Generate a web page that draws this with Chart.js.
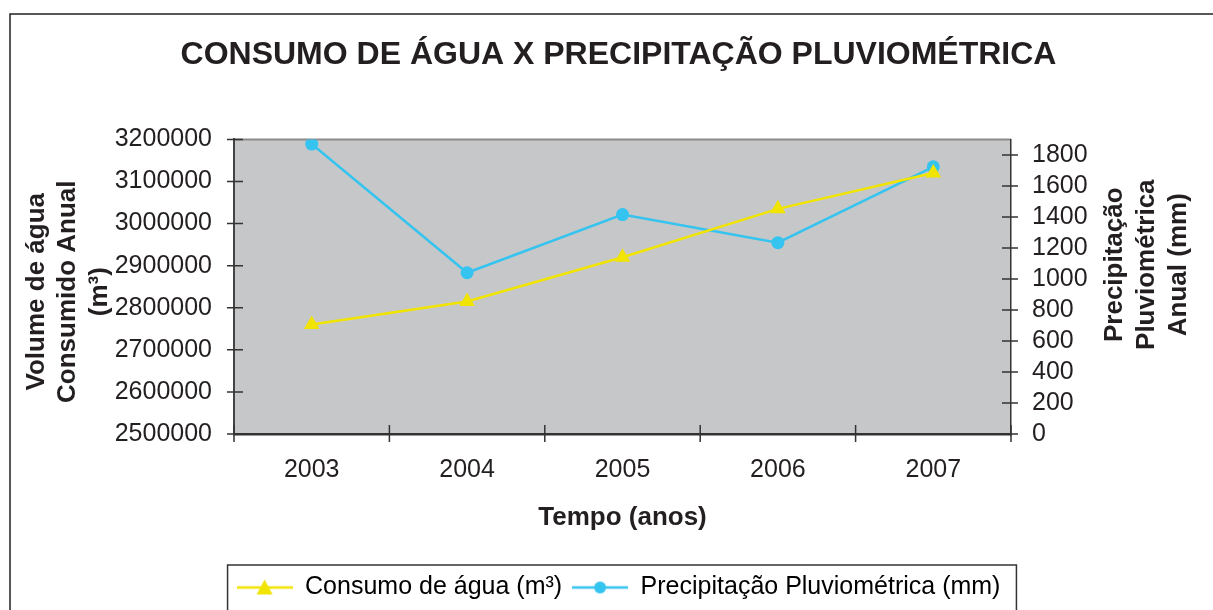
<!DOCTYPE html>
<html>
<head>
<meta charset="utf-8">
<title>Consumo de água x Precipitação</title>
<script src="https://cdn.jsdelivr.net/npm/chart.js@4.4.0/dist/chart.umd.min.js"></script>
<style>
    html, body { margin: 0; padding: 0; background: #ffffff; }
    #grafico { display: block; }
</style>
</head>
<body>
<div style="width:1213px;height:610px;">
    <canvas id="grafico" width="1213" height="610"></canvas>
</div>
<script>
var anos = ['2003', '2004', '2005', '2006', '2007']
var consumo = [2760000, 2815000, 2920000, 3035000, 3120000]
var precipitacao = [1870, 1040, 1415, 1234, 1723]

var ticksConsumo = { min: 2500000, max: 3200000, passo: 100000 }
var ticksPrecip = { min: 0, max: 1900, passo: 200 }

var tituloEsq = ['Volume de água', 'Consumido Anual', '(m³)']
var tituloDir = ['Precipitação', 'Pluviométrica', 'Anual (mm)']

var amarelo = '#f0e400'
var azul = '#35c4ef'
var fonte = '"Liberation Sans", Arial, sans-serif'

// marcador da legenda: linha com o ponto no meio
function criaMarcador(cor, tipo) {
    var c = document.createElement('canvas')
    c.width = 56
    c.height = 18
    var ctx = c.getContext('2d')
    ctx.strokeStyle = cor
    ctx.lineWidth = 2.5
    ctx.beginPath()
    ctx.moveTo(0, 9)
    ctx.lineTo(56, 9)
    ctx.stroke()
    ctx.fillStyle = cor
    ctx.beginPath()
    if (tipo == 'triangulo') {
        ctx.moveTo(28, 1)
        ctx.lineTo(36, 16)
        ctx.lineTo(20, 16)
        ctx.closePath()
    } else {
        ctx.arc(28, 9, 6, 0, Math.PI * 2)
    }
    ctx.fill()
    return c
}

var extras = {
    id: 'extras',
    beforeDraw: function (chart) {
        var ctx = chart.ctx
        var a = chart.chartArea
        ctx.save()
        // moldura externa
        ctx.strokeStyle = '#222'
        ctx.lineWidth = 1.5
        ctx.beginPath()
        ctx.moveTo(10, 620)
        ctx.lineTo(10, 14)
        ctx.lineTo(1220, 14)
        ctx.stroke()
        // fundo da area do grafico
        ctx.fillStyle = '#c6c7c9'
        ctx.fillRect(a.left, a.top, a.right - a.left, a.bottom - a.top)
        ctx.strokeStyle = '#8c8c8c'
        ctx.lineWidth = 2
        ctx.beginPath()
        ctx.moveTo(a.left, a.top)
        ctx.lineTo(a.right, a.top)
        ctx.stroke()
        ctx.restore()
    },
    beforeDatasetsDraw: function (chart) {
        var ctx = chart.ctx
        var a = chart.chartArea
        var x = chart.scales.x
        var y = chart.scales.y
        var y1 = chart.scales.y1
        ctx.save()
        ctx.strokeStyle = '#333'
        ctx.lineWidth = 1.5
        ctx.beginPath()
        y.ticks.forEach(function (t) {
            var py = y.getPixelForValue(t.value)
            ctx.moveTo(a.left - 7, py)
            ctx.lineTo(a.left + 9, py)
        })
        y1.ticks.forEach(function (t) {
            var py = y1.getPixelForValue(t.value)
            ctx.moveTo(a.right - 9, py)
            ctx.lineTo(a.right + 7, py)
        })
        for (var k = 0; k <= anos.length; k++) {
            var px = x.left + k * x.width / anos.length
            ctx.moveTo(px, a.bottom - 9)
            ctx.lineTo(px, a.bottom + 8)
        }
        ctx.stroke()
        ctx.restore()
    },
    afterDraw: function (chart) {
        var ctx = chart.ctx
        var a = chart.chartArea
        ctx.save()
        ctx.fillStyle = '#231f20'
        ctx.font = 'bold 26px ' + fonte
        ctx.textAlign = 'center'
        ctx.textBaseline = 'middle'
        var meio = (a.top + a.bottom) / 2
        // titulo do eixo esquerdo
        var xsEsq = [37, 68, 100]
        tituloEsq.forEach(function (linha, i) {
            ctx.save()
            ctx.translate(xsEsq[i], meio + 5)
            ctx.rotate(-Math.PI / 2)
            ctx.fillText(linha, 0, 0)
            ctx.restore()
        })
        // titulo do eixo direito
        var xsDir = [1115, 1147, 1179]
        tituloDir.forEach(function (linha, i) {
            ctx.save()
            ctx.translate(xsDir[i], meio - 22)
            ctx.rotate(-Math.PI / 2)
            ctx.fillText(linha, 0, 0)
            ctx.restore()
        })
        // borda da legenda
        var leg = chart.legend
        if (leg && leg.legendHitBoxes && leg.legendHitBoxes.length) {
            var caixas = leg.legendHitBoxes
            var esq = caixas[0].left - 9
            var ult = caixas[caixas.length - 1]
            var dir = ult.left + ult.width + 16
            ctx.strokeStyle = '#333'
            ctx.lineWidth = 1.5
            ctx.beginPath()
            ctx.moveTo(esq, 640)
            ctx.lineTo(esq, leg.top)
            ctx.lineTo(dir, leg.top)
            ctx.lineTo(dir, 640)
            ctx.stroke()
        }
        ctx.restore()
    }
}

var canvas = document.getElementById('grafico')

var grafico = new Chart(canvas, {
    type: 'line',
    data: {
        labels: anos,
        datasets: [{
            label: 'Consumo de água (m³)',
            data: consumo,
            yAxisID: 'y',
            borderColor: amarelo,
            backgroundColor: amarelo,
            borderWidth: 2.5,
            pointStyle: 'triangle',
            pointRadius: 9,
            pointBorderWidth: 0,
            tension: 0,
            fill: false
        }, {
            label: 'Precipitação Pluviométrica (mm)',
            data: precipitacao,
            yAxisID: 'y1',
            borderColor: azul,
            backgroundColor: azul,
            borderWidth: 2.5,
            pointStyle: 'circle',
            pointRadius: 6.5,
            pointBorderWidth: 0,
            tension: 0,
            fill: false
        }]
    },
    options: {
        responsive: false,
        animation: false,
        layout: { padding: { left: 24, right: 0, top: 0, bottom: 0 } },
        plugins: {
            title: {
                display: true,
                text: 'CONSUMO DE ÁGUA X PRECIPITAÇÃO PLUVIOMÉTRICA',
                color: '#231f20',
                font: { family: fonte, size: 32, weight: 'bold' },
                padding: { top: 36, bottom: 65 }
            },
            legend: {
                position: 'bottom',
                labels: {
                    color: '#231f20',
                    font: { family: fonte, size: 25 },
                    usePointStyle: true,
                    pointStyleWidth: 56,
                    padding: 10,
                    generateLabels: function (chart) {
                        return chart.data.datasets.map(function (ds, i) {
                            return {
                                text: ds.label,
                                pointStyle: criaMarcador(ds.borderColor, i == 0 ? 'triangulo' : 'circulo'),
                                fillStyle: ds.borderColor,
                                strokeStyle: ds.borderColor,
                                lineWidth: 0,
                                datasetIndex: i
                            }
                        })
                    }
                }
            },
            tooltip: { enabled: false }
        },
        scales: {
            x: {
                type: 'category',
                offset: true,
                grid: { display: false, drawTicks: false, offset: true },
                border: { display: true, color: '#333', width: 2.5 },
                ticks: {
                    color: '#231f20',
                    font: { family: fonte, size: 25 },
                    padding: 21,
                    maxRotation: 0
                },
                title: {
                    display: true,
                    text: 'Tempo (anos)',
                    color: '#231f20',
                    font: { family: fonte, size: 26, weight: 'bold' },
                    padding: { top: 4, bottom: 32 }
                },
                afterFit: function (scale) { scale.height = 131 }
            },
            y: {
                position: 'left',
                min: ticksConsumo.min,
                max: ticksConsumo.max,
                grid: { display: false, drawTicks: false },
                border: { display: true, color: '#444', width: 2 },
                ticks: {
                    stepSize: ticksConsumo.passo,
                    autoSkip: false,
                    color: '#231f20',
                    font: { family: fonte, size: 25 },
                    padding: 22,
                    callback: function (v) { return String(v) }
                },
                afterFit: function (scale) { scale.width = 210 }
            },
            y1: {
                position: 'right',
                min: ticksPrecip.min,
                max: ticksPrecip.max,
                grid: { display: false, drawTicks: false },
                border: { display: true, color: '#333', width: 1.5 },
                ticks: {
                    stepSize: ticksPrecip.passo,
                    includeBounds: false,
                    autoSkip: false,
                    color: '#231f20',
                    font: { family: fonte, size: 25 },
                    padding: 21,
                    callback: function (v) { return String(v) }
                },
                afterBuildTicks: function (scale) {
                    scale.ticks = scale.ticks.filter(function (t) { return t.value % ticksPrecip.passo == 0 })
                },
                afterFit: function (scale) { scale.width = 202 }
            }
        }
    },
    plugins: [extras]
})
</script>
</body>
</html>
